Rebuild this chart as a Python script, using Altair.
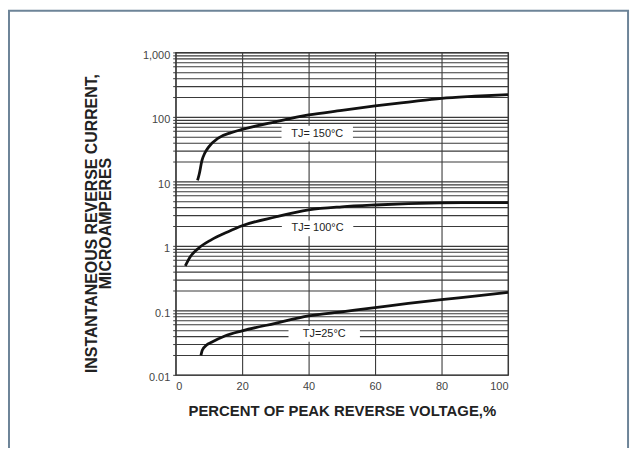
import altair as alt
import pandas as pd

# ---- axis ticks ----
x_ticks = [0, 20, 40, 60, 80, 100]
y_decades = [0.01, 0.1, 1, 10, 100, 1000]
y_decade_labels = ["0.01", "0.1", "1", "10", "100", "1,000"]
y_multipliers = [1, 2, 3, 4, 5, 6, 7, 8, 9]
y_grid = [m * d for d in y_decades[:-1] for m in y_multipliers] + [1000]

# ---- curves (percent of peak reverse voltage, microamperes) ----
x150 = [6.6, 7.1, 7.9, 8.7, 9.9, 12.8, 16.7, 20, 30, 40, 50, 60, 70, 80, 90, 100]
y150 = [10.4, 13, 21, 27, 34, 47, 57, 64, 84, 107, 126, 148, 170, 194, 209, 222]

x100 = [2.9, 4.4, 6.9, 10.7, 15.8, 20, 30, 40, 50, 60, 70, 80, 90, 100]
y100 = [0.49, 0.68, 0.92, 1.24, 1.66, 2.05, 2.8, 3.6, 4.03, 4.3, 4.5, 4.63, 4.68, 4.7]

x25 = [7.6, 8.0, 9.3, 10.8, 14.8, 20, 30, 40, 50, 60, 70, 80, 90, 100]
y25 = [0.020, 0.024, 0.029, 0.032, 0.040, 0.048, 0.063, 0.082, 0.095, 0.11, 0.128, 0.147, 0.166, 0.19]

# ---- curve labels ----
label_text = ["TJ= 150°C", "TJ= 100°C", "TJ=25°C"]
label_x = [42.6, 42.7, 44.7]
label_y = [55, 1.87, 0.043]

rows = []
for name, xs, ys in [("150", x150, y150), ("100", x100, y100), ("25", x25, y25)]:
    for xv, yv in zip(xs, ys):
        rows.append({"series": name, "x": xv, "y": yv})
df = pd.DataFrame(rows)
labels = pd.DataFrame({"text": label_text, "x": label_x, "y": label_y})

label_expr = ""
for v, lab in zip(y_decades, y_decade_labels):
    label_expr += f"datum.value == {v} ? '{lab}' : "
label_expr += "''"

FONT = "Liberation Sans"
GRID = "#3a3a3a"

xs = alt.Scale(domain=[0, 100], nice=False, zero=False)
ys = alt.Scale(type="log", domain=[0.01, 1000], nice=False)

x_axis = alt.Axis(
    values=x_ticks, grid=True, gridColor=GRID, gridWidth=1.1, gridOpacity=1,
    tickSize=0, labelPadding=6, labelFontSize=11, labelFont=FONT, labelColor="#444",
    domain=False, title="PERCENT OF PEAK REVERSE VOLTAGE,%",
    titleFont=FONT, titleFontSize=15, titleFontWeight="bold", titleColor="#222",
    titlePadding=12,
)
y_axis = alt.Axis(
    values=y_grid, grid=True, gridColor=GRID, gridWidth=1.1, gridOpacity=1,
    tickSize=3, tickColor=GRID, labelPadding=3, labelFontSize=11, labelFont=FONT,
    labelColor="#444", labelExpr=label_expr, labelOffset=3, domain=False,
    title=["INSTANTANEOUS REVERSE CURRENT,", "MICROAMPERES"],
    titleFont=FONT, titleFontSize=16, titleFontWeight="bold", titleColor="#222",
    titlePadding=29, titleLineHeight=14, titleY=172,
)

curves = alt.Chart(df).mark_line(interpolate="monotone", strokeWidth=2.8, color="#111").encode(
    x=alt.X("x:Q", scale=xs, axis=x_axis),
    y=alt.Y("y:Q", scale=ys, axis=y_axis),
    detail="series:N",
)

boxes = alt.Chart(labels).mark_point(
    shape="M-1,-0.22H1V0.22H-1Z", size=72 * 72, filled=True, fill="white",
    opacity=1, strokeWidth=0,
).encode(x=alt.X("x:Q", scale=xs), y=alt.Y("y:Q", scale=ys))

texts = alt.Chart(labels).mark_text(font=FONT, fontSize=11, color="#222").encode(
    x=alt.X("x:Q", scale=xs), y=alt.Y("y:Q", scale=ys), text="text:N"
)

frame = alt.Chart(alt.Data(values=[{"a": 1}])).mark_rect(
    fill=None, fillOpacity=0, stroke="#6d8498", strokeWidth=2
).encode(
    x=alt.value(-168), x2=alt.value(456), y=alt.value(-42), y2=alt.value(430)
)

chart = (
    alt.layer(curves, boxes, texts, frame)
    .properties(
        width=335, height=325,
        autosize=alt.AutoSizeParams(type="none"),
        padding={"left": 169, "top": 43, "right": 126, "bottom": 72},
        background="white",
    )
    .configure_view(stroke=GRID, strokeWidth=1.3)
)

chart.save("out.html", embed_options={"renderer": "svg", "actions": False})
